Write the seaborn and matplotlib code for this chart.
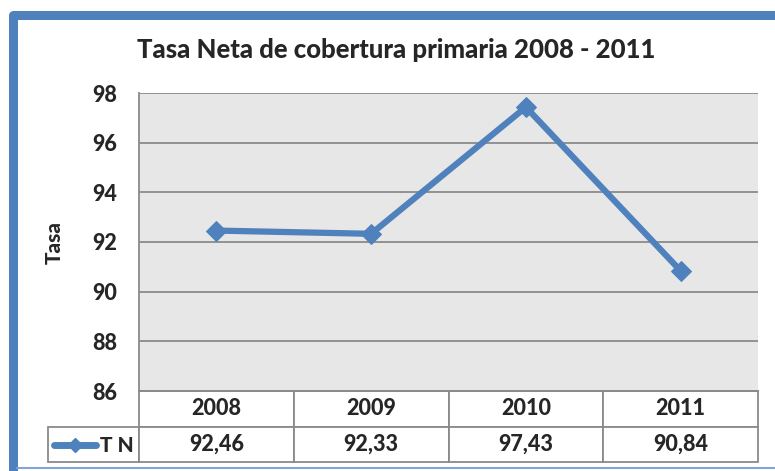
import matplotlib
matplotlib.use('Agg')
import matplotlib.pyplot as plt
import pandas as pd
import seaborn as sns
from matplotlib.lines import Line2D
from matplotlib.patches import Rectangle

# ======== data =======================================
years = ['2008', '2009', '2010', '2011']
tasa = [92.46, 92.33, 97.43, 90.84]
tasa_labels = ['92,46', '92,33', '97,43', '90,84']
series_name = 'T N'
yticks = [86, 88, 90, 92, 94, 96, 98]
title = 'Tasa Neta de cobertura primaria 2008 - 2011'

sns.set_theme(style='white')
plt.rcParams['font.family'] = ['Lato', 'DejaVu Sans']
plt.rcParams['font.weight'] = 'black'

blue = '#4F81BD'
grey = '#8a8a8a'
W, H = 775, 471

fig = plt.figure(figsize=(W / 100, H / 100), dpi=100)
fig.patch.set_facecolor('white')

# plot area in pixels: x 139..758, y 93..391
ax = fig.add_axes([139 / W, 1 - 391 / H, (758 - 139) / W, (391 - 93) / H])
ax.set_facecolor('#e7e7e7')

df = pd.DataFrame({'year': years, 'tasa': tasa})
sns.lineplot(data=df, x='year', y='tasa', ax=ax, color=blue, lw=4.5,
             marker='D', markersize=10, markeredgecolor=blue, sort=False)

ax.set_xlim(-0.5, 3.5)
ax.set_ylim(86, 98)
ax.set_yticks(yticks)
ax.set_xticks([])
ax.set_xlabel('')
ax.set_ylabel('')
ax.yaxis.grid(True, color=grey, lw=1.3)
ax.set_axisbelow(True)
ax.tick_params(axis='y', length=0, pad=16, labelsize=15.5)
for s in ['top', 'right']:
    ax.spines[s].set_visible(False)
for s in ['left', 'bottom']:
    ax.spines[s].set_color(grey)
    ax.spines[s].set_linewidth(1.3)

fig.text(54 / W, 1 - 242 / H, 'Tasa', rotation=90, ha='center', va='center',
         fontsize=15, fontweight='black')
fig.text(396 / W, 1 - 50 / H, title, ha='center', va='center',
         fontsize=18.5, fontweight='black')

# data table under the plot
aw, ah = 758 - 139, 391 - 93
tbl = ax.table(cellText=[[''] + tasa_labels], colLabels=[''] + years,
               colWidths=[91 / aw] + [154.75 / aw] * 4, cellLoc='center',
               bbox=[(48 - 139) / aw, -(462 - 391) / ah, (758 - 48) / aw, (462 - 391) / ah])
tbl.auto_set_font_size(False)
tbl.set_fontsize(15.5)
for (r, c), cell in tbl.get_celld().items():
    cell.set_edgecolor(grey)
    cell.set_linewidth(1.3)
    cell.set_facecolor('white')
    cell.get_text().set_fontweight('black')
tbl[(0, 0)].visible_edges = ''

# legend key inside the row label cell
ax.text((134 - 139) / aw, -(445 - 391) / ah, series_name, transform=ax.transAxes,
        ha='right', va='center', fontsize=15, fontweight='black')
fig.add_artist(Line2D([54 / W, 96 / W], [1 - 445 / H, 1 - 445 / H], color=blue, lw=5,
                      solid_capstyle='round', transform=fig.transFigure))
fig.add_artist(Line2D([75 / W], [1 - 445 / H], color=blue, marker='D', markersize=7,
                      transform=fig.transFigure))

# chart frame
fig.add_artist(Rectangle((12.5 / W, -20 / H), 800 / W, (H - 15 + 20) / H, fill=False,
                         edgecolor=blue, lw=6.5, joinstyle='round', transform=fig.transFigure))
fig.add_artist(Line2D([17 / W, 1], [3 / H, 3 / H], color='#7fa6d6', lw=1.5,
                      transform=fig.transFigure))

fig.savefig('out.png', dpi=100)
plt.close()
